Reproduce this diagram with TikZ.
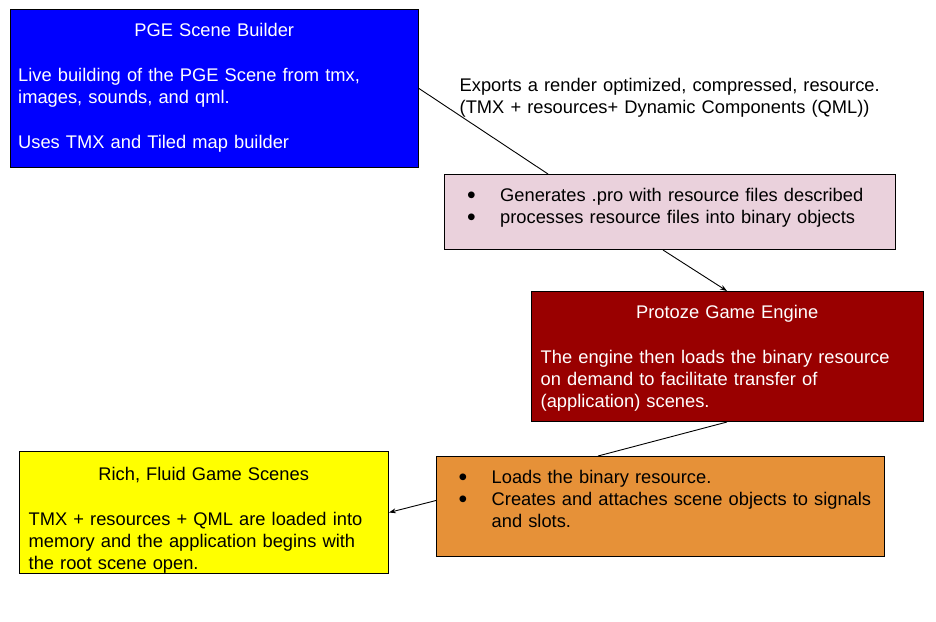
\documentclass[tikz,border=0pt]{standalone}
\usepackage{fontspec}
\usepackage{graphicx}
\setmainfont{Liberation Sans}
\usetikzlibrary{arrows.meta,positioning,calc}

\definecolor{builderblue}{HTML}{0000FF}
\definecolor{genpink}{HTML}{EAD1DC}
\definecolor{enginered}{HTML}{990000}
\definecolor{loadorange}{HTML}{E69138}
\definecolor{sceneyellow}{HTML}{FFFF00}

\newcommand{\bul}{\makebox[33pt][l]{\smash{\raisebox{-1.9pt}{\scalebox{1.35}{\textbullet}}}}}

\begin{document}
\begin{tikzpicture}[
  x=1pt, y=-1pt,
  font=\fontsize{18.3}{22}\selectfont,
  box/.style={draw=black, line width=1pt, anchor=north west, inner sep=0pt},
  txt/.style={anchor=north west, inner sep=0pt, align=left},
  link/.style={draw=black, line width=0.9pt},
  arr/.style={link, -{Stealth[length=7pt,width=5pt]}}
]
\useasboundingbox (0,0) rectangle (936,621);

\node[box, fill=builderblue, minimum width=408, minimum height=158] (builder) at (10,9) {};
\node[txt, text=white, text width=392] (buildertxt) at (18,22.8)
  {\makebox[\linewidth]{PGE Scene Builder}\\[23pt]
   Live building of the PGE Scene from tmx,\\
   images, sounds, and qml.\\[23pt]
   Uses TMX and Tiled map builder};

\node[txt, text width=440] (exportstxt) at (459.5,78)
  {Exports a render optimized, compressed, resource.\\
   (TMX + resources+ Dynamic Components (QML))};

\node[box, fill=genpink, minimum width=451, minimum height=75] (gen) at (444,174) {};
\node[txt, text width=440] (gentxt) at (467,188)
  {\bul Generates .pro with resource files described\\
   \bul processes resource files into binary objects};

\node[box, fill=enginered, minimum width=392, minimum height=130] (engine) at (531,291) {};
\node[txt, text=white, text width=373] (enginetxt) at (540.5,305.5)
  {\makebox[\linewidth]{Protoze Game Engine}\\[23pt]
   The engine then loads the binary resource\\
   on demand to facilitate transfer of\\
   (application) scenes.};

\node[box, fill=loadorange, minimum width=448, minimum height=100] (loader) at (436,456) {};
\node[txt, text width=440] (loadertxt) at (458.5,470.5)
  {\bul Loads the binary resource.\\
   \bul Creates and attaches scene objects to signals\\
   \hspace*{33pt}and slots.};

\node[box, fill=sceneyellow, minimum width=369, minimum height=122] (scenes) at (19,451) {};
\node[txt, text width=350] (scenestxt) at (28.5,467.5)
  {\makebox[\linewidth]{Rich, Fluid Game Scenes}\\[23pt]
   TMX + resources + QML are loaded into\\
   memory and the application begins with\\
   the root scene open.};

\draw[link] (builder.east) -- ([xshift=104pt]gen.north west);
\draw[arr] ([xshift=219pt]gen.south west) -- ([xshift=196pt]engine.north west);
\draw[link] ([xshift=196pt]engine.south west) -- ([xshift=162pt]loader.north west);
\draw[arr] ([yshift=6pt]loader.west) -- (scenes.east);
\end{tikzpicture}
\end{document}
